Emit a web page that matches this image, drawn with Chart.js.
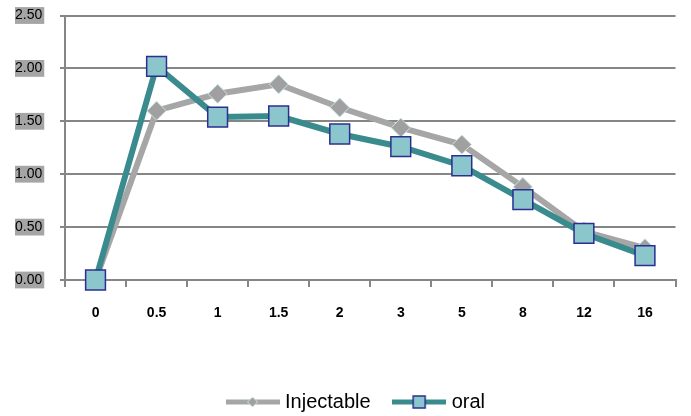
<!DOCTYPE html>
<html>
<head>
<meta charset="utf-8">
<script src="https://cdn.jsdelivr.net/npm/chart.js@4.4.1/dist/chart.umd.min.js"></script>
<style>
  html, body { margin: 0; padding: 0; background: #fff; }
</style>
</head>
<body>
<canvas id="pk-chart" width="691" height="416"></canvas>
<script>
// hours after dose
const timeLabels = ["0", "0.5", "1", "1.5", "2", "3", "5", "8", "12", "16"];
const injectableValues = [0, 1.60, 1.76, 1.85, 1.63, 1.44, 1.28, 0.88, 0.46, 0.30];
const oralValues = [0, 2.02, 1.54, 1.55, 1.38, 1.26, 1.08, 0.76, 0.44, 0.23];
const yTicks = [0, 0.5, 1, 1.5, 2, 2.5];

const gridGrey = "#868686";
const fontName = "'Liberation Sans', Arial, sans-serif";

// small canvas used as legend symbol: line with the marker in the middle
function legendIcon(lineColor, marker) {
  const c = document.createElement("canvas");
  c.width = 54;
  c.height = 20;
  const ctx = c.getContext("2d");
  ctx.strokeStyle = lineColor;
  ctx.lineWidth = 5;
  ctx.beginPath();
  ctx.moveTo(0, 10);
  ctx.lineTo(54, 10);
  ctx.stroke();
  if (marker === "diamond") {
    ctx.fillStyle = "#a0a0a0";
    ctx.strokeStyle = "#c6e2e4";
    ctx.lineWidth = 1;
    ctx.beginPath();
    ctx.moveTo(27, 5);
    ctx.lineTo(32, 10);
    ctx.lineTo(27, 15);
    ctx.lineTo(22, 10);
    ctx.closePath();
    ctx.fill();
    ctx.stroke();
  } else {
    ctx.fillStyle = "#8cc6cd";
    ctx.strokeStyle = "#2b2f8f";
    ctx.lineWidth = 1.5;
    ctx.fillRect(21, 4, 12, 12);
    ctx.strokeRect(21, 4, 12, 12);
  }
  return c;
}

const icons = [legendIcon("#a6a6a6", "diamond"), legendIcon("#3a8b8e", "square")];

// nudge the legend row to where it sits in the original
const legendShift = {
  id: "legendShift",
  afterLayout(chart) {
    const lg = chart.legend;
    lg.left += 10;
    lg.right += 10;
    lg.top += 6;
    lg.bottom += 6;
  }
};

new Chart(document.getElementById("pk-chart"), {
  type: "line",
  data: {
    labels: timeLabels,
    datasets: [
      {
        label: "Injectable",
        data: injectableValues,
        order: 1,
        borderColor: "#a6a6a6",
        borderWidth: 6,
        pointStyle: "rectRot",
        pointRadius: 9.5,
        pointBackgroundColor: "#a0a0a0",
        pointBorderColor: "#c6e2e4",
        pointBorderWidth: 1,
        tension: 0,
        clip: false
      },
      {
        label: "oral",
        data: oralValues,
        order: 0,
        borderColor: "#3a8b8e",
        borderWidth: 6,
        pointStyle: "rect",
        pointRadius: 14,
        pointBackgroundColor: "#8cc6cd",
        pointBorderColor: "#2b2f8f",
        pointBorderWidth: 1.5,
        tension: 0,
        clip: false
      }
    ]
  },
  options: {
    responsive: false,
    animation: false,
    layout: { padding: { top: 13, right: 11, bottom: 0, left: 15 } },
    plugins: {
      tooltip: { enabled: false },
      legend: {
        position: "bottom",
        labels: {
          usePointStyle: true,
          pointStyleWidth: 45,
          padding: 26,
          color: "#000",
          font: { family: fontName, size: 20 },
          generateLabels(chart) {
            return chart.data.datasets.map((ds, i) => ({
              text: ds.label,
              pointStyle: icons[i],
              datasetIndex: i,
              fontColor: "#000",
              lineWidth: 0,
              hidden: false
            }));
          }
        }
      }
    },
    scales: {
      x: {
        offset: true,
        grid: {
          offset: true,
          drawOnChartArea: false,
          color: gridGrey,
          lineWidth: 2,
          tickLength: 7
        },
        border: { color: gridGrey, width: 2 },
        ticks: {
          color: "#000",
          padding: 18,
          maxRotation: 0,
          font: { family: fontName, size: 14, weight: "bold" }
        },
        afterFit(scale) {
          scale.height = 80;
        }
      },
      y: {
        min: 0,
        max: 2.5,
        afterBuildTicks(scale) {
          scale.ticks = yTicks.map(v => ({ value: v }));
        },
        grid: { color: gridGrey, lineWidth: 2, tickLength: 5 },
        border: { color: gridGrey, width: 2 },
        ticks: {
          color: "#000",
          padding: 0,
          crossAlign: "far",
          font: { family: fontName, size: 14 },
          showLabelBackdrop: true,
          backdropColor: "#a5a5a5",
          backdropPadding: { x: 2, y: 0 },
          callback: v => Number(v).toFixed(2)
        },
        afterFit(scale) {
          scale.width = 50;
        }
      }
    }
  },
  plugins: [legendShift]
});
</script>
</body>
</html>
